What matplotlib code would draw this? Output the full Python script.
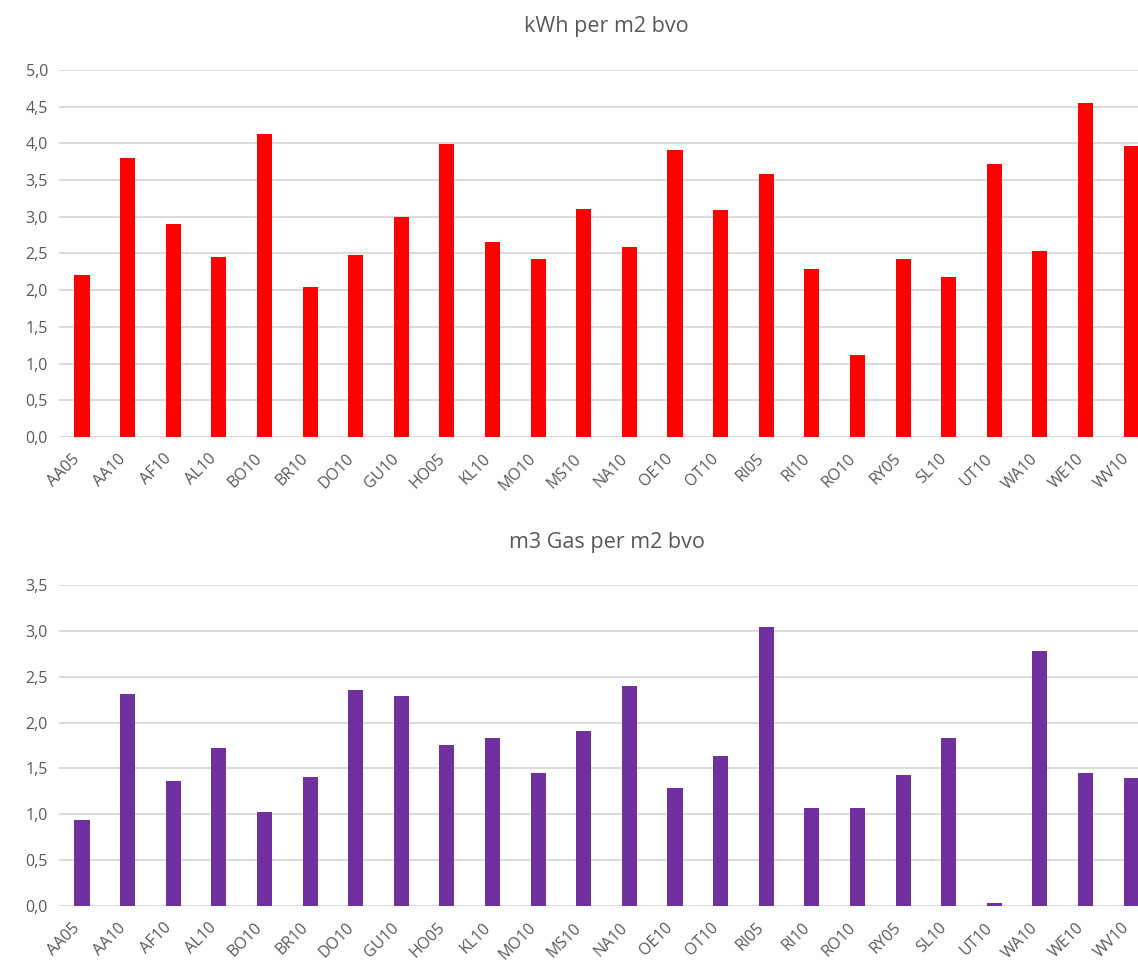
import matplotlib
matplotlib.use("Agg")
import matplotlib.pyplot as plt
from matplotlib.ticker import FuncFormatter, MultipleLocator
from matplotlib.transforms import ScaledTranslation

# locations (same order in both charts)
locations = ["AA05", "AA10", "AF10", "AL10", "BO10", "BR10", "DO10", "GU10",
             "HO05", "KL10", "MO10", "MS10", "NA10", "OE10", "OT10", "RI05",
             "RI10", "RO10", "RY05", "SL10", "UT10", "WA10", "WE10", "WV10"]

# kWh per m2 bvo
kwh_per_m2 = [2.20, 3.80, 2.90, 2.45, 4.13, 2.04, 2.48, 3.00,
              3.99, 2.65, 2.43, 3.11, 2.59, 3.91, 3.09, 3.58,
              2.29, 1.11, 2.43, 2.18, 3.72, 2.53, 4.55, 3.97]

# m3 gas per m2 bvo
gas_per_m2 = [0.94, 2.31, 1.36, 1.72, 1.03, 1.41, 2.36, 2.29,
              1.76, 1.83, 1.45, 1.91, 2.40, 1.29, 1.63, 3.04,
              1.07, 1.07, 1.43, 1.83, 0.03, 2.78, 1.45, 1.40]

TEXT = "#595959"
GRID = "#D9D9D9"

plt.rcParams["font.family"] = ["Open Sans", "DejaVu Sans"]

fig = plt.figure(figsize=(11.38, 9.71), dpi=100)


def comma(v, pos):
    return ("%.1f" % v).replace(".", ",")


def draw(ax, values, color, title, ymax):
    x = range(len(locations))
    ax.bar(x, values, width=0.33, color=color, zorder=3)
    ax.set_xlim(-0.5, len(locations) - 0.5)
    ax.set_ylim(0, ymax)
    ax.yaxis.set_major_locator(MultipleLocator(0.5))
    ax.yaxis.set_major_formatter(FuncFormatter(comma))
    ax.grid(axis="y", color=GRID, linewidth=1.3, zorder=0)
    for s in ax.spines.values():
        s.set_visible(False)
    ax.tick_params(axis="both", length=0, colors=TEXT, labelsize=11.5)
    ax.tick_params(axis="y", pad=8)
    ax.tick_params(axis="x", pad=10)
    ax.set_xticks(list(x))
    ax.set_xticklabels(locations, rotation=45, ha="right",
                       rotation_mode="anchor")
    # nudge the slanted labels left so they end just under the bar
    shift = ScaledTranslation(-10 / 100, 0, fig.dpi_scale_trans)
    for lab in ax.get_xticklabels():
        lab.set_transform(lab.get_transform() + shift)
    ax.set_title(title, fontsize=15.5, color=TEXT, pad=27)


# axes stretch a little past the right edge, like the cropped original
ax1 = fig.add_axes([0.052, 0.550, 0.962, 0.378])
draw(ax1, kwh_per_m2, "#FF0000", "kWh per m2 bvo", 5.0)

ax2 = fig.add_axes([0.052, 0.067, 0.962, 0.3305])
draw(ax2, gas_per_m2, "#7030A0", "m3 Gas per m2 bvo", 3.5)

fig.savefig("out.png", dpi=100)
